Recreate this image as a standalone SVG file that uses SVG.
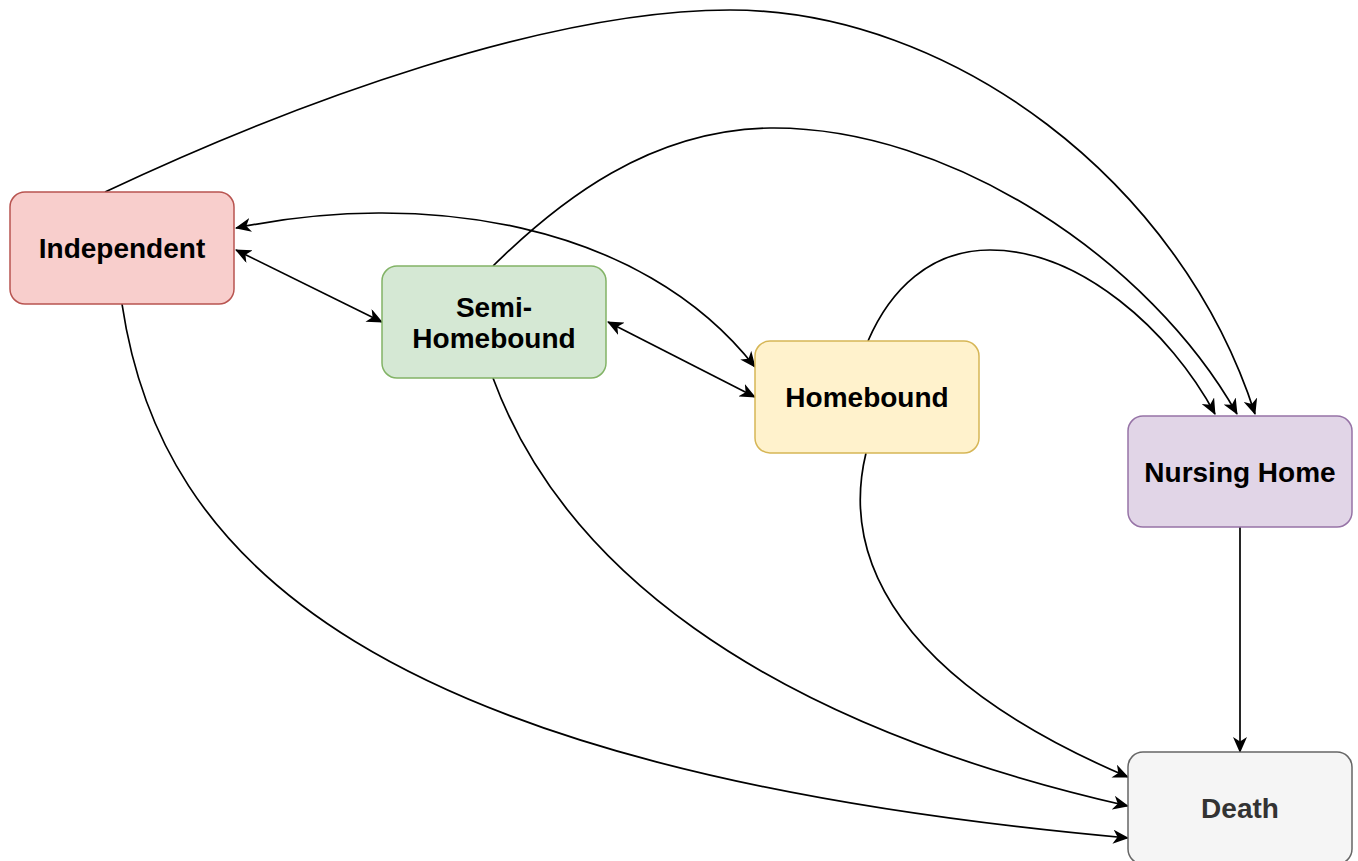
<svg xmlns="http://www.w3.org/2000/svg" width="1358" height="861" viewBox="0 0 1358 861">
<style>
.n{stroke-width:1.5}
.t{font-family:"Liberation Sans",Arial,sans-serif;font-weight:bold;font-size:28px;text-anchor:middle;fill:#000}
.e{fill:none;stroke:#000;stroke-width:1.7}
</style>
<defs>
<marker id="a" markerUnits="userSpaceOnUse" markerWidth="16" markerHeight="14" refX="15" refY="7" orient="auto-start-reverse" viewBox="0 0 16 14">
<path d="M0,0 L16,7 L0,14 L4.5,7 z" fill="#000"/>
</marker>
</defs>
<rect width="1358" height="861" fill="#fff"/>
<g id="edges">
<path class="e" d="M105,192 C300,100 550,10 730,10 C950,10 1180,180 1255,414" marker-end="url(#a)"/>
<path class="e" d="M493,266 C560,200 650,130 770,128 C950,126 1150,260 1237,414" marker-end="url(#a)"/>
<path class="e" d="M868,341 C890,290 930,250 990,250 C1080,250 1170,330 1215,414" marker-end="url(#a)"/>
<path class="e" d="M236,228 C420,190 640,220 755,367" marker-start="url(#a)" marker-end="url(#a)"/>
<path class="e" d="M236,250 L382,322" marker-start="url(#a)" marker-end="url(#a)"/>
<path class="e" d="M608,322 L755,397" marker-start="url(#a)" marker-end="url(#a)"/>
<path class="e" d="M122,304 C160,560 370,770 1128,838" marker-end="url(#a)"/>
<path class="e" d="M493,378 C560,560 750,720 1128,806" marker-end="url(#a)"/>
<path class="e" d="M866,453 C840,560 900,680 1128,777" marker-end="url(#a)"/>
<path class="e" d="M1240,527 L1240,752" marker-end="url(#a)"/>
</g>
<g id="independent">
<rect class="n" x="10" y="192" width="224" height="112" rx="15" fill="#f8cecc" stroke="#b85450"/>
<text class="t" x="122" y="258">Independent</text>
</g>
<g id="semi-homebound">
<rect class="n" x="382" y="266" width="224" height="112" rx="15" fill="#d5e8d4" stroke="#82b366"/>
<text class="t" x="494" y="317">Semi-</text>
<text class="t" x="494" y="348">Homebound</text>
</g>
<g id="homebound">
<rect class="n" x="755" y="341" width="224" height="112" rx="15" fill="#fff2cc" stroke="#d6b656"/>
<text class="t" x="867" y="407">Homebound</text>
</g>
<g id="nursing-home">
<rect class="n" x="1128" y="416" width="224" height="111" rx="15" fill="#e1d5e7" stroke="#9673a6"/>
<text class="t" x="1240" y="482">Nursing Home</text>
</g>
<g id="death">
<rect class="n" x="1128" y="752" width="224" height="112" rx="15" fill="#f5f5f5" stroke="#666666"/>
<text class="t" x="1240" y="818" style="fill:#333">Death</text>
</g>
</svg>
